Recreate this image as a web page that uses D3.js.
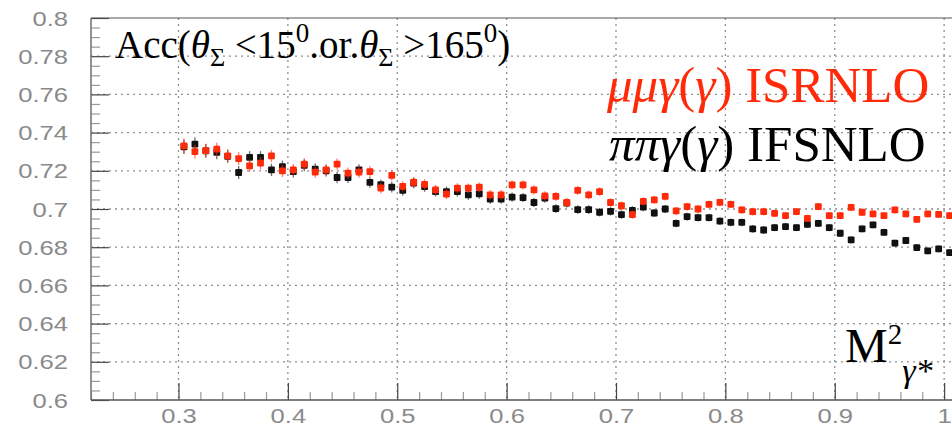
<!DOCTYPE html>
<html>
<head>
<meta charset="utf-8">
<script src="https://cdn.jsdelivr.net/npm/d3@7"></script>
<style>
  body { margin: 0; background: #fff; }
  svg { display: block; }
</style>
</head>
<body>
<div class="container"></div>
<script>
/* globals d3 */

// bin centres (M^2 of the gamma*)
const massBins = [
  0.305, 0.315, 0.325, 0.335, 0.345, 0.355, 0.365, 0.375, 0.385, 0.395,
  0.405, 0.415, 0.425, 0.435, 0.445, 0.455, 0.465, 0.475, 0.485, 0.495,
  0.505, 0.515, 0.525, 0.535, 0.545, 0.555, 0.565, 0.575, 0.585, 0.595,
  0.605, 0.615, 0.625, 0.635, 0.645, 0.655, 0.665, 0.675, 0.685, 0.695,
  0.705, 0.715, 0.725, 0.735, 0.745, 0.755, 0.765, 0.775, 0.785, 0.795,
  0.805, 0.815, 0.825, 0.835, 0.845, 0.855, 0.865, 0.875, 0.885, 0.895,
  0.905, 0.915, 0.925, 0.935, 0.945, 0.955, 0.965, 0.975, 0.985, 0.995,
  1.005
];

// acceptance for mu mu gamma (ISRNLO), red
const muMuValues = [
  0.7330, 0.7300, 0.7306, 0.7313, 0.7278, 0.7264, 0.7226, 0.7240, 0.7278, 0.7200,
  0.7205, 0.7235, 0.7193, 0.7205, 0.7235, 0.7188, 0.7193, 0.7196, 0.7110, 0.7176,
  0.7118, 0.7140, 0.7129, 0.7100, 0.7078, 0.7109, 0.7109, 0.7114, 0.7074, 0.7074,
  0.7126, 0.7126, 0.7100, 0.7069, 0.7066, 0.7034, 0.7097, 0.7074, 0.7091, 0.7034,
  0.7017, 0.6971, 0.7040, 0.7048, 0.7066, 0.6990, 0.7012, 0.7000, 0.7024, 0.7035,
  0.7024, 0.6995, 0.6986, 0.6986, 0.6977, 0.6965, 0.6986, 0.6951, 0.7012, 0.6965,
  0.6965, 0.7009, 0.6983, 0.6974, 0.6965, 0.6995, 0.6974, 0.6946, 0.6974, 0.6972,
  0.6965
];

// acceptance for pi pi gamma (IFSNLO), black
const piPiValues = [
  0.7326, 0.7340, 0.7304, 0.7296, 0.7276, 0.7191, 0.7270, 0.7270, 0.7205, 0.7222,
  0.7196, 0.7228, 0.7209, 0.7200, 0.7165, 0.7165, 0.7205, 0.7139, 0.7127, 0.7115,
  0.7097, 0.7135, 0.7117, 0.7091, 0.7091, 0.7091, 0.7074, 0.7079, 0.7052, 0.7052,
  0.7062, 0.7060, 0.7034, 0.7057, 0.7002, 0.7031, 0.6997, 0.6997, 0.6983, 0.6988,
  0.6971, 0.6993, 0.7010, 0.6979, 0.7000, 0.6925, 0.6960, 0.6955, 0.6955, 0.6937,
  0.6930, 0.6930, 0.6896, 0.6890, 0.6903, 0.6908, 0.6903, 0.6920, 0.6925, 0.6903,
  0.6873, 0.6838, 0.6896, 0.6917, 0.6878, 0.6821, 0.6835, 0.6798, 0.6781, 0.6791,
  0.6772
];

// statistical errors, shared by both samples
const errors = [
  0.0038, 0.0036, 0.0036, 0.0035, 0.0034, 0.0034, 0.0033, 0.0033, 0.0032, 0.0032,
  0.0031, 0.0031, 0.0030, 0.0030, 0.0030, 0.0029, 0.0029, 0.0028, 0.0028, 0.0028,
  0.0027, 0.0027, 0.0027, 0.0026, 0.0026, 0.0026, 0.0025, 0.0025, 0.0025, 0.0025,
  0.0024, 0.0024, 0.0024, 0.0024, 0.0023, 0.0023, 0.0023, 0.0023, 0.0022, 0.0022,
  0.0022, 0.0022, 0.0022, 0.0021, 0.0021, 0.0021, 0.0021, 0.0021, 0.0020, 0.0020,
  0.0020, 0.0020, 0.0020, 0.0020, 0.0019, 0.0019, 0.0019, 0.0019, 0.0019, 0.0019,
  0.0019, 0.0018, 0.0018, 0.0018, 0.0018, 0.0018, 0.0018, 0.0018, 0.0018, 0.0018,
  0.0018
];

const xTickValues = [0.3, 0.4, 0.5, 0.6, 0.7, 0.8, 0.9, 1];
const yTickValues = [0.6, 0.62, 0.64, 0.66, 0.68, 0.7, 0.72, 0.74, 0.76, 0.78, 0.8];

const globals = {
  width: 952,
  height: 431,
  red: '#ff2a0a',
  black: '#111',
  gridColor: '#8f8f8f',
  labelColor: '#8a8a8a',
  axisColor: '#555'
};

const margin = { top: 18, left: 91, bottom: 31 };

const svg = d3.select('.container')
  .append('svg')
  .attr('width', globals.width)
  .attr('height', globals.height)
  .attr('viewBox', `0 0 ${globals.width} ${globals.height}`);

svg.append('rect')
  .attr('width', globals.width)
  .attr('height', globals.height)
  .attr('fill', '#fff');

// the frame runs past the right border of the picture
const xScale = d3.scaleLinear()
  .domain([0.22, 1.02])
  .range([margin.left, margin.left + 875]);

const yScale = d3.scaleLinear()
  .domain([0.6, 0.8])
  .range([globals.height - margin.bottom, margin.top]);

const x0 = xScale.range()[0];
const x1 = xScale.range()[1];
const yBottom = yScale.range()[0];
const yTop = yScale.range()[1];

// dotted grid on the major ticks
svg.append('g')
  .selectAll('line')
  .data(xTickValues)
  .enter()
  .append('line')
  .attr('x1', d => xScale(d))
  .attr('x2', d => xScale(d))
  .attr('y1', yTop)
  .attr('y2', yBottom)
  .attr('stroke', globals.gridColor)
  .attr('stroke-width', 1.3)
  .attr('stroke-dasharray', '2,4');

svg.append('g')
  .selectAll('line')
  .data(yTickValues.filter(d => d > 0.601 && d < 0.799))
  .enter()
  .append('line')
  .attr('x1', x0)
  .attr('x2', x1)
  .attr('y1', d => yScale(d))
  .attr('y2', d => yScale(d))
  .attr('stroke', globals.gridColor)
  .attr('stroke-width', 1.3)
  .attr('stroke-dasharray', '2,4');

// minor ticks, inward
const isMajorX = v => Math.abs(v * 10 - Math.round(v * 10)) < 1e-6;
const xMinor = xScale.ticks(40).filter(v => !isMajorX(v));
const isMajorY = v => Math.abs(v * 50 - Math.round(v * 50)) < 1e-6;
const yMinor = yScale.ticks(50).filter(v => !isMajorY(v));

svg.append('g')
  .attr('transform', `translate(0, ${yBottom})`)
  .call(d3.axisBottom(xScale).tickValues(xMinor).tickSize(-8).tickFormat(''))
  .call(g => g.select('.domain').remove())
  .call(g => g.selectAll('line').attr('stroke', '#999').attr('stroke-width', 1.2));

svg.append('g')
  .attr('transform', `translate(${x0}, 0)`)
  .call(d3.axisLeft(yScale).tickValues(yMinor).tickSize(-9).tickFormat(''))
  .call(g => g.select('.domain').remove())
  .call(g => g.selectAll('line').attr('stroke', '#999').attr('stroke-width', 1.2));

// major ticks with labels
const labelFont = '"Liberation Sans", Helvetica, Arial, sans-serif';

svg.append('g')
  .attr('transform', `translate(0, ${yBottom})`)
  .call(d3.axisBottom(xScale).tickValues(xTickValues).tickSize(-17).tickPadding(0).tickFormat(d3.format('~g')))
  .call(g => g.select('.domain').remove())
  .call(g => g.selectAll('line').attr('stroke', '#444').attr('stroke-width', 1.2))
  .call(g => g.selectAll('text')
    .attr('y', 0)
    .attr('dy', 0)
    .attr('transform', 'translate(0, 23) scale(1.28, 1)')
    .attr('fill', globals.labelColor)
    .style('font-family', labelFont)
    .style('font-size', '20px'));

svg.append('g')
  .attr('transform', `translate(${x0}, 0)`)
  .call(d3.axisLeft(yScale).tickValues(yTickValues).tickSize(-18).tickPadding(0).tickFormat(d3.format('~g')))
  .call(g => g.select('.domain').remove())
  .call(g => g.selectAll('line').attr('stroke', '#444').attr('stroke-width', 1.2))
  .call(g => g.selectAll('text')
    .attr('x', 0)
    .attr('dy', '0.35em')
    .attr('transform', 'translate(-23, 0) scale(1.28, 1)')
    .attr('fill', globals.labelColor)
    .style('font-family', labelFont)
    .style('font-size', '20px'));

// frame lines
svg.append('line')
  .attr('x1', x0).attr('x2', x0)
  .attr('y1', yTop).attr('y2', yBottom)
  .attr('stroke', '#777')
  .attr('stroke-width', 1.6);

svg.append('line')
  .attr('x1', x0).attr('x2', x1)
  .attr('y1', yBottom).attr('y2', yBottom)
  .attr('stroke', globals.axisColor)
  .attr('stroke-width', 1.6);

svg.append('line')
  .attr('x1', x0).attr('x2', x1)
  .attr('y1', yTop).attr('y2', yTop)
  .attr('stroke', globals.axisColor)
  .attr('stroke-width', 1.2);

// one group of error bars and square markers per sample
function drawSeries(values, colour) {
  const points = massBins.map((x, i) => ({ x, y: values[i], e: errors[i] }));
  const g = svg.append('g');

  g.selectAll('line')
    .data(points)
    .enter()
    .append('line')
    .attr('x1', d => xScale(d.x))
    .attr('x2', d => xScale(d.x))
    .attr('y1', d => yScale(d.y - d.e))
    .attr('y2', d => yScale(d.y + d.e))
    .attr('stroke', colour)
    .attr('stroke-opacity', 0.6)
    .attr('stroke-width', 1.3);

  g.selectAll('rect')
    .data(points)
    .enter()
    .append('rect')
    .attr('x', d => xScale(d.x) - 3.4)
    .attr('y', d => yScale(d.y) - 3.4)
    .attr('width', 6.8)
    .attr('height', 6.8)
    .attr('rx', 1)
    .attr('fill', colour);
}

drawSeries(piPiValues, globals.black);
drawSeries(muMuValues, globals.red);

// latex-like labels built from tspans
const serif = '"Liberation Serif", "Times New Roman", Times, serif';

function richText(x, y, size, colour, parts) {
  const text = svg.append('text')
    .attr('x', x)
    .attr('y', y)
    .attr('fill', colour)
    .style('font-family', serif)
    .style('font-size', `${size}px`);
  let shift = 0;
  parts.forEach((p) => {
    const s = p.shift || 0;
    text.append('tspan')
      .attr('dy', s - shift)
      .style('font-family', serif)
      .style('font-style', p.italic ? 'italic' : 'normal')
      .style('font-size', `${p.size || size}px`)
      .text(p.t);
    shift = s;
  });
  return text;
}

richText(115, 58, 39, '#000', [
  { t: 'Acc(' },
  { t: 'θ', italic: true },
  { t: 'Σ', size: 26, shift: 8 },
  { t: ' <15' },
  { t: '0', size: 27, shift: -16 },
  { t: '.or.' },
  { t: 'θ', italic: true },
  { t: 'Σ', size: 26, shift: 8 },
  { t: ' >165' },
  { t: '0', size: 27, shift: -16 },
  { t: ')' }
]);

richText(607, 102, 51, globals.red, [
  { t: 'μμγ', italic: true },
  { t: '(' },
  { t: 'γ', italic: true },
  { t: ')' },
  { t: ' ISRNLO' }
]);

richText(609, 161, 51, '#000', [
  { t: 'ππγ', italic: true },
  { t: '(' },
  { t: 'γ', italic: true },
  { t: ')' },
  { t: ' IFSNLO' }
]);

richText(845, 362, 48, '#000', [
  { t: 'M' },
  { t: '2', size: 29, shift: -18 },
  { t: 'γ*', italic: true, size: 34, shift: 20 }
]);
</script>
</body>
</html>
